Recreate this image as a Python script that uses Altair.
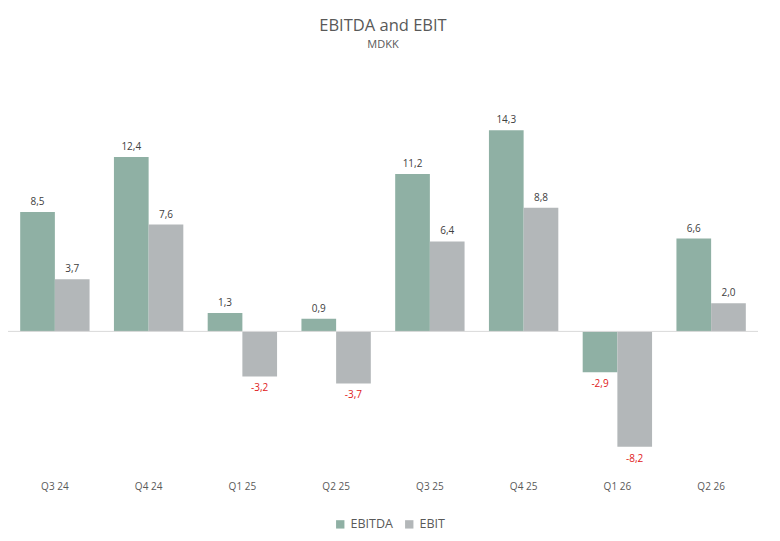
import altair as alt
import pandas as pd

quarters = ["Q3 24", "Q4 24", "Q1 25", "Q2 25", "Q3 25", "Q4 25", "Q1 26", "Q2 26"]
ebitda = [8.5, 12.4, 1.3, 0.9, 11.2, 14.3, -2.9, 6.6]
ebit = [3.7, 7.6, -3.2, -3.7, 6.4, 8.8, -8.2, 2.0]
series = ["EBITDA", "EBIT"]
colors = ["#8fb0a4", "#b3b7b9"]

rows = []
for q, a, b in zip(quarters, ebitda, ebit):
    rows.append({"q": q, "s": "EBITDA", "v": a})
    rows.append({"q": q, "s": "EBIT", "v": b})
df = pd.DataFrame(rows)
df["label"] = df["v"].map(lambda v: f"{v:.1f}".replace(".", ","))

FONT = "Open Sans"

x = alt.X("q:N", sort=quarters, title=None,
          scale=alt.Scale(paddingInner=0.26, paddingOuter=0.13),
          axis=alt.Axis(domain=False, ticks=False, labelAngle=0, labelColor="#595959",
                        labelFontSize=10, labelPadding=9, labelFont=FONT))
xo = alt.XOffset("s:N", sort=series)
y = alt.Y("v:Q", scale=alt.Scale(domain=[-10, 17.88], nice=False, zero=True), axis=None)

base = alt.Chart(df).encode(x=x, xOffset=xo)

bars = base.mark_bar().encode(
    y=y, y2=alt.datum(0),
    color=alt.Color("s:N", sort=series, scale=alt.Scale(domain=series, range=colors),
                    legend=alt.Legend(title=None, orient="none", direction="horizontal",
                                      legendX=326, legendY=438, symbolType="square",
                                      symbolSize=70, labelFontSize=12.5, labelColor="#595959",
                                      labelFont=FONT, columnPadding=10, labelOffset=4,
                                      symbolStrokeWidth=0)),
)

pos_labels = base.transform_filter("datum.v >= 0").mark_text(
    dy=-10, fontSize=10, color="#404040", font=FONT
).encode(y=y, text="label:N")

neg_labels = base.transform_filter("datum.v < 0").mark_text(
    dy=12, fontSize=10, color="#e02020", font=FONT
).encode(y=y, text="label:N")

zero = alt.Chart(pd.DataFrame({"z": [0]})).mark_rule(color="#d9d9d9", strokeWidth=1).encode(
    y=alt.Y("z:Q", scale=alt.Scale(domain=[-10, 17.88], nice=False), axis=None)
)

chart = alt.layer(bars, zero, pos_labels, neg_labels).properties(
    width=750, height=392,
    autosize=alt.AutoSizeParams(type="none"),
    padding={"left": 0, "right": 14, "top": 72, "bottom": 61},
    title=alt.TitleParams("EBITDA and EBIT", subtitle="MDKK", fontSize=16.5, subtitleFontSize=11,
                          color="#595959", subtitleColor="#595959", font=FONT, subtitleFont=FONT,
                          fontWeight="normal", anchor="middle", offset=30, subtitlePadding=5),
).configure_view(stroke=None)

chart.save("out.html", embed_options={"renderer": "svg", "actions": False})
